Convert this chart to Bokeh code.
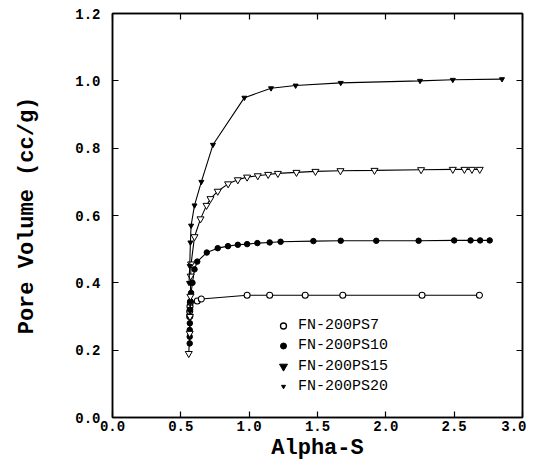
import math
from bokeh.plotting import figure
from bokeh.models import (ColumnDataSource, LinearAxis, Range1d, FixedTicker,
                          Legend, LegendItem, CustomJSTickFormatter)
from bokeh.embed import file_html
from bokeh.resources import INLINE

# ---- data ----
ps7_x = [0.565, 0.565, 0.567, 0.57, 0.62, 0.65, 0.985, 1.15, 1.41, 1.685, 2.265, 2.685]
ps7_y = [0.30, 0.315, 0.33, 0.342, 0.346, 0.352, 0.363, 0.363, 0.363, 0.363, 0.363, 0.363]

ps10_x = [0.565, 0.565, 0.565, 0.566, 0.567, 0.568, 0.57, 0.575, 0.585, 0.60, 0.62, 0.69,
          0.77, 0.845, 0.917, 0.985, 1.06, 1.15, 1.23, 1.47, 1.67, 1.93, 2.24, 2.50,
          2.62, 2.69, 2.76]
ps10_y = [0.22, 0.24, 0.26, 0.28, 0.30, 0.32, 0.345, 0.37, 0.40, 0.44, 0.463, 0.49,
          0.503, 0.509, 0.513, 0.515, 0.518, 0.52, 0.522, 0.524, 0.525, 0.525, 0.525, 0.526,
          0.526, 0.526, 0.526]

ps15_x = [0.558, 0.565, 0.567, 0.57, 0.572, 0.575, 0.60, 0.644, 0.688, 0.717, 0.77, 0.846,
          0.917, 0.985, 1.063, 1.139, 1.21, 1.346, 1.485, 1.668, 1.917, 2.258, 2.49,
          2.575, 2.63, 2.687]
ps15_y = [0.19, 0.25, 0.30, 0.36, 0.42, 0.456, 0.537, 0.59, 0.63, 0.65, 0.672, 0.694,
          0.706, 0.714, 0.718, 0.722, 0.725, 0.728, 0.731, 0.733, 0.734, 0.736, 0.737,
          0.737, 0.737, 0.737]

ps20_x = [0.56, 0.565, 0.57, 0.575, 0.60, 0.65, 0.735, 0.965, 1.16, 1.34, 1.67, 2.25, 2.49, 2.85]
ps20_y = [0.40, 0.45, 0.52, 0.57, 0.63, 0.70, 0.81, 0.95, 0.978, 0.986, 0.994, 1.0, 1.003, 1.005]

series_names = ["FN-200PS7", "FN-200PS10", "FN-200PS15", "FN-200PS20"]
x_ticks = [0.0, 0.5, 1.0, 1.5, 2.0, 2.5, 3.0]
y_ticks = [0.0, 0.2, 0.4, 0.6, 0.8, 1.0, 1.2]

MONO = "Liberation Mono"

p = figure(frame_width=410, frame_height=404, width=526, height=463,
           x_range=Range1d(0, 3.0), y_range=Range1d(0, 1.2),
           output_backend="svg", toolbar_location=None,
           min_border_left=112, min_border_right=4, min_border_top=13, min_border_bottom=46)
p.grid.visible = False
p.background_fill_color = "white"
p.outline_line_color = "black"
p.outline_line_width = 1.5

for ax in (p.xaxis[0], p.yaxis[0]):
    ax.major_tick_in = 6
    ax.major_tick_out = 0
    ax.minor_tick_in = 0
    ax.minor_tick_out = 0
    ax.axis_line_width = 1.5
    ax.major_tick_line_width = 1.2
    ax.major_label_text_font = MONO
    ax.major_label_text_font_style = "bold"
    ax.major_label_text_font_size = "14px"
    ax.major_label_text_color = "black"
    ax.axis_label_text_font = MONO
    ax.axis_label_text_font_style = "bold"
    ax.axis_label_text_font_size = "22px"
    ax.axis_label_text_color = "black"

p.xaxis[0].ticker = FixedTicker(ticks=x_ticks)
p.yaxis[0].ticker = FixedTicker(ticks=y_ticks)
p.xaxis[0].formatter = CustomJSTickFormatter(code="return tick.toFixed(1);")
p.yaxis[0].formatter = CustomJSTickFormatter(code="return tick.toFixed(1);")
p.xaxis[0].axis_label = "Alpha-S"
p.yaxis[0].axis_label = "Pore Volume (cc/g)"
p.xaxis[0].major_label_standoff = 3
p.xaxis[0].axis_label_standoff = 2
p.yaxis[0].major_label_standoff = 12
p.yaxis[0].axis_label_standoff = 32

blank = CustomJSTickFormatter(code="return '';")
top = LinearAxis(ticker=FixedTicker(ticks=x_ticks), formatter=blank,
                 major_tick_in=6, major_tick_out=0, minor_tick_in=0, minor_tick_out=0,
                 major_label_standoff=0, axis_line_width=1.5, major_tick_line_width=1.2,
                 major_label_text_font_size="1px")
right = LinearAxis(ticker=FixedTicker(ticks=y_ticks), formatter=blank,
                   major_tick_in=6, major_tick_out=0, minor_tick_in=0, minor_tick_out=0,
                   major_label_standoff=0, axis_line_width=1.5, major_tick_line_width=1.2,
                   major_label_text_font_size="1px")
p.add_layout(top, "above")
p.add_layout(right, "right")

lw = 1.1
# PS7: open circles
p.line(ps7_x, ps7_y, line_color="black", line_width=lw)
p.scatter(ps7_x, ps7_y, marker="circle", size=6, fill_color="white", line_color="black", line_width=1.1)
# PS10: filled circles
p.line(ps10_x, ps10_y, line_color="black", line_width=lw)
p.scatter(ps10_x, ps10_y, marker="circle", size=5.5, fill_color="black", line_color="black")
# PS15 curve: open inverted triangles
p.line(ps15_x, ps15_y, line_color="black", line_width=lw)
p.scatter(ps15_x, ps15_y, marker="inverted_triangle", size=7, fill_color="white", line_color="black", line_width=1.0)
# PS20: small filled inverted triangles
p.line(ps20_x, ps20_y, line_color="black", line_width=lw)
p.scatter(ps20_x, ps20_y, marker="inverted_triangle", size=5, fill_color="black", line_color="black")

# legend glyphs (as in the reference legend), one small legend per row so sizes differ
nan_src = ColumnDataSource(dict(x=[math.nan], y=[math.nan]))
lg7 = p.scatter("x", "y", source=nan_src, marker="circle", fill_color="white", line_color="black", line_width=1.3)
lg10 = p.scatter("x", "y", source=nan_src, marker="circle", fill_color="black", line_color="black")
lg15 = p.scatter("x", "y", source=nan_src, marker="inverted_triangle", fill_color="black", line_color="black")
lg20 = p.scatter("x", "y", source=nan_src, marker="inverted_triangle", fill_color="black", line_color="black")

rows = [(series_names[0], lg7, 15, 92), (series_names[1], lg10, 15, 72),
        (series_names[2], lg15, 20, 51), (series_names[3], lg20, 10, 31)]
for name, r, gh, cy in rows:
    h = max(gh, 17)
    leg = Legend(items=[LegendItem(label=name, renderers=[r])],
                 location=(161, cy - h / 2), border_line_color=None, background_fill_alpha=0,
                 label_text_font=MONO, label_text_font_size="15px", label_text_color="black",
                 glyph_width=20, glyph_height=gh, label_height=17, spacing=0,
                 padding=0, label_standoff=5, margin=0)
    p.add_layout(leg, "center")

open("out.html", "w").write(file_html(p, INLINE))
